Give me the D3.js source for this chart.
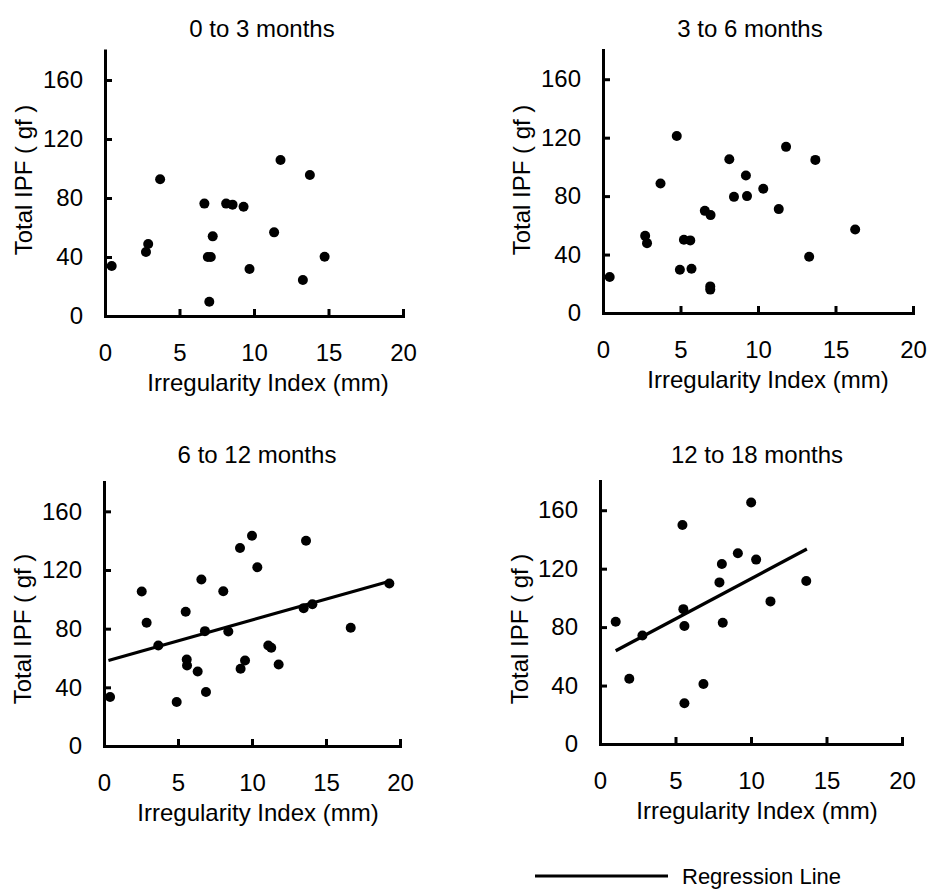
<!DOCTYPE html>
<html>
<head>
<meta charset="utf-8">
<script src="https://cdn.jsdelivr.net/npm/d3@7"></script>
<style>
  body { margin: 0; background: #fff; }
  text { font-family: "Liberation Sans", Arial, sans-serif; }
</style>
</head>
<body>
<div id="chart"></div>
<script>
// panel titles
var titles = ["0 to 3 months", "3 to 6 months", "6 to 12 months", "12 to 18 months"];

// irregularity index (mm) and total IPF (gf), one pair of arrays per panel
var p1x = [0.45, 2.75, 2.9, 3.7, 6.67, 6.9, 7.1, 7.23, 7.0, 8.13, 8.56, 9.3, 9.7, 11.35, 11.78, 13.28, 13.75, 14.74];
var p1y = [33.9, 43.4, 48.8, 92.7, 76.2, 40, 40, 54, 9.7, 76.2, 75.5, 74.1, 31.9, 56.7, 105.8, 24.4, 95.6, 40.2];

var p2x = [0.43, 2.72, 2.84, 3.71, 4.76, 4.96, 5.22, 5.63, 5.71, 6.57, 6.94, 6.92, 6.92, 8.15, 8.45, 9.22, 9.29, 10.34, 11.34, 11.81, 13.3, 13.7, 16.27];
var p2y = [24.6, 52.8, 47.8, 88.6, 121.2, 29.6, 50.1, 49.7, 30.3, 69.9, 67, 18.2, 16, 105.2, 79.5, 94.1, 80, 85, 71.1, 113.7, 38.5, 104.8, 57.2];

var p3x = [0.41, 2.55, 2.88, 3.67, 4.91, 5.52, 5.59, 5.61, 6.33, 6.58, 6.82, 6.89, 8.06, 8.4, 9.19, 9.23, 9.53, 10.0, 10.36, 11.1, 11.3, 11.8, 13.65, 13.49, 14.08, 16.67, 19.28];
var p3y = [33.4, 105.3, 84, 68.5, 30, 91.5, 59, 54.9, 50.8, 113.5, 78.3, 36.8, 105.5, 78.1, 135, 52.7, 58.3, 143.4, 121.9, 68.5, 67, 55.6, 140, 94, 96.7, 80.6, 110.8];

var p4x = [1.04, 1.94, 2.81, 5.46, 5.52, 5.59, 5.59, 6.85, 7.91, 8.07, 8.13, 9.13, 10.01, 10.34, 11.29, 13.66];
var p4y = [83.7, 44.6, 74.3, 149.9, 92.3, 80.7, 27.9, 41.1, 110.6, 123.2, 83, 130.5, 165.3, 126.2, 97.6, 111.5];

// regression lines: [intercept, slope, x start, x end], null where there is none
var regression = [null, null, [57.5, 2.84, 0.3, 19.3], [58.1, 5.5, 1.04, 13.7]];

var xTicks = [0, 5, 10, 15, 20];
var yTicks = [0, 40, 80, 120, 160];
var xLabel = "Irregularity Index (mm)";
var yLabel = "Total IPF ( gf )";
var legendLabel = "Regression Line";

var seriesX = [p1x, p2x, p3x, p4x];
var seriesY = [p1y, p2y, p3y, p4y];

// pixel frame of each panel: left, right, bottom, top
var frames = [
  [105, 403, 316, 50.5],
  [603, 913, 313, 50],
  [104, 400, 746, 482],
  [600, 902, 744, 481]
];
// title centre x, title baseline, y label centre x, y label centre y, x label centre x
var labelPos = [
  [262, 37, 24, 180, 268],
  [750, 37, 522, 180, 768],
  [257, 463, 23, 629, 258],
  [757, 463, 520, 629, 757]
];

var svg = d3.select("#chart").append("svg").attr("width", 928).attr("height", 890);

var fontSize = 24;

titles.forEach(function(title, i) {
  var f = frames[i];
  var lp = labelPos[i];
  var x = d3.scaleLinear().domain([0, 20]).range([f[0], f[1]]);
  var y = d3.scaleLinear().domain([0, 180]).range([f[2], f[3]]);
  var g = svg.append("g");

  //x axis with ticks pointing inward
  var gx = g.append("g")
    .attr("transform", "translate(0," + f[2] + ")")
    .call(d3.axisBottom(x).tickValues(xTicks).tickSizeInner(-7).tickSizeOuter(0).tickPadding(28));
  //y axis
  var gy = g.append("g")
    .attr("transform", "translate(" + f[0] + ",0)")
    .call(d3.axisLeft(y).tickValues(yTicks).tickSizeInner(-7).tickSizeOuter(0).tickPadding(22));

  [gx, gy].forEach(function(a) {
    a.attr("font-size", fontSize).attr("font-family", "Liberation Sans, Arial, sans-serif");
    a.selectAll("path, line").attr("stroke", "#000").attr("stroke-width", 3);
    a.select(".domain").attr("stroke-linecap", "square");
  });

  //points
  g.selectAll("circle")
    .data(seriesX[i])
    .enter()
    .append("circle")
    .attr("cx", function(d) { return x(d); })
    .attr("cy", function(d, j) { return y(seriesY[i][j]); })
    .attr("r", 5)
    .attr("fill", "#000");

  //regression line if any
  var r = regression[i];
  if (r) {
    g.append("line")
      .attr("x1", x(r[2])).attr("y1", y(r[0] + r[1] * r[2]))
      .attr("x2", x(r[3])).attr("y2", y(r[0] + r[1] * r[3]))
      .attr("stroke", "#000")
      .attr("stroke-width", 3.2);
  }

  //titles and axis labels
  g.append("text")
    .attr("x", lp[0])
    .attr("y", lp[1])
    .attr("text-anchor", "middle")
    .attr("font-size", fontSize)
    .text(title);

  g.append("text")
    .attr("x", lp[4])
    .attr("y", f[2] + 75)
    .attr("text-anchor", "middle")
    .attr("font-size", fontSize)
    .text(xLabel);

  g.append("text")
    .attr("transform", "translate(" + lp[2] + "," + lp[3] + ") rotate(-90)")
    .attr("dy", "0.35em")
    .attr("text-anchor", "middle")
    .attr("font-size", fontSize)
    .text(yLabel);
});

//legend
svg.append("line")
  .attr("x1", 535).attr("x2", 668)
  .attr("y1", 876).attr("y2", 876)
  .attr("stroke", "#000")
  .attr("stroke-width", 3);

svg.append("text")
  .attr("x", 682)
  .attr("y", 884)
  .attr("font-size", 22)
  .text(legendLabel);
</script>
</body>
</html>
